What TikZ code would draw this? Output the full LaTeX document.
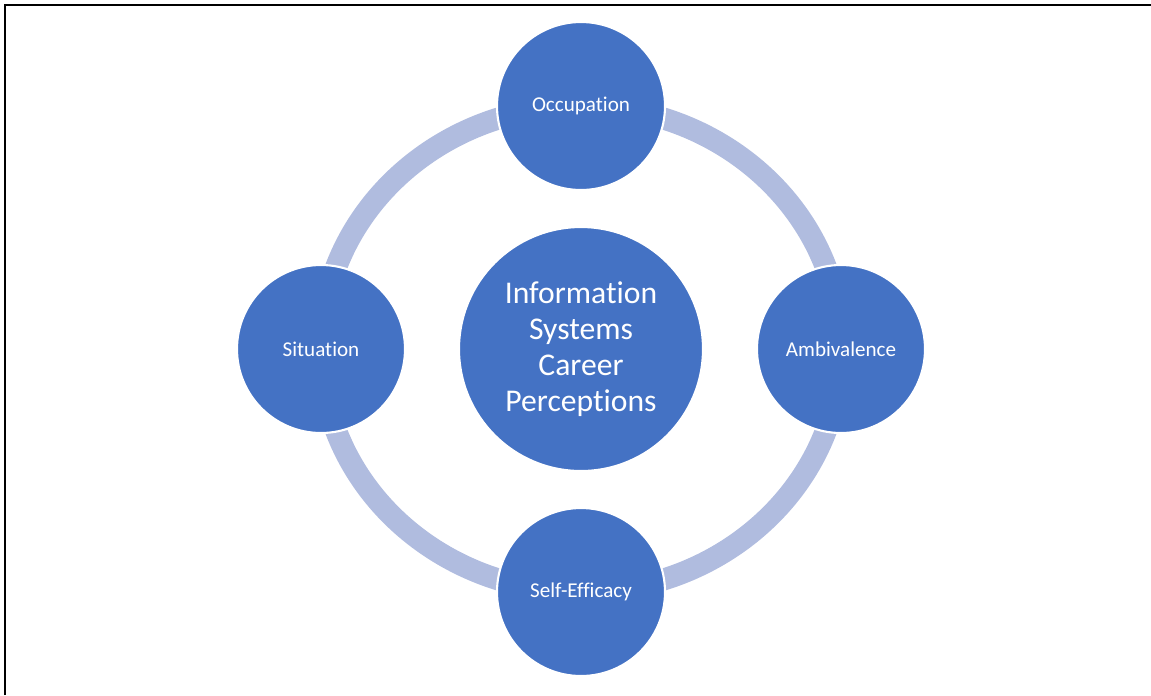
\documentclass[tikz,border=0pt]{standalone}
\usepackage{fontspec}
\setmainfont[RawFeature={-liga;-clig;-calt;-dlig}]{Carlito}
\definecolor{hubblue}{HTML}{4472C4}
\definecolor{ringblue}{HTML}{B0BCDF}
\tikzset{
  bubble/.style={circle, fill=hubblue, draw=white, line width=1.2pt,
    text=white, align=center, inner sep=0pt},
  hubbubble/.style={bubble, minimum size=4.88cm,
    font=\fontsize{18}{20.5}\selectfont},
  satbubble/.style={bubble, minimum size=3.36cm,
    font=\fontsize{12}{14}\selectfont},
  ring/.style={draw=ringblue, line width=12.5pt}
}
\begin{document}
\begin{tikzpicture}
    \useasboundingbox (-11.62,-6.92) rectangle (11.4,6.98);
    \draw[line width=1.5pt] (-11.52,-6.92) -- (-11.52,6.88) -- (11.4,6.88);

    \coordinate (C) at (0,0);
    \draw[ring] (C) ellipse [x radius=5.2cm, y radius=4.86cm];

    \node[hubbubble] (hub) at (C) {Information\\Systems\\Career\\Perceptions};

    \node[satbubble] (occ) at (0,4.86)  {Occupation};
    \node[satbubble] (amb) at (5.2,0)   {Ambivalence};
    \node[satbubble] (eff) at (0,-4.86) {Self-Efficacy};
    \node[satbubble] (sit) at (-5.2,0)  {Situation};
\end{tikzpicture}
\end{document}
